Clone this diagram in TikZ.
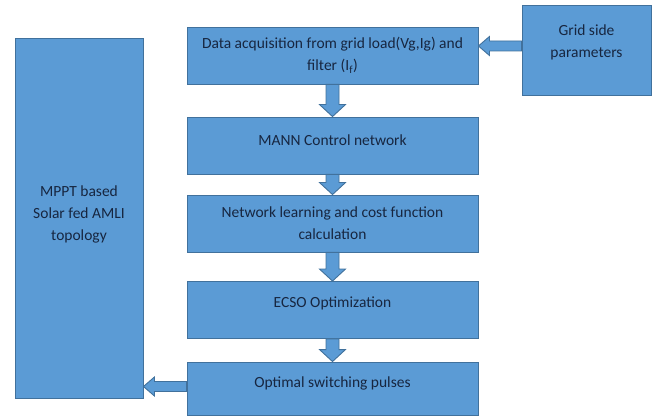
\documentclass[tikz,border=0pt]{standalone}
\usepackage{fontspec}
\setmainfont{Carlito}
\usetikzlibrary{calc}
\definecolor{boxfill}{HTML}{5B9BD5}
\definecolor{boxline}{HTML}{41719C}
\definecolor{boxtext}{HTML}{172640}
\tikzset{
  stagebox/.style={draw=boxline, fill=boxfill, line width=0.9pt,
    text=boxtext, font=\fontsize{15.5}{22}\selectfont, align=center,
    inner sep=0pt, minimum width=291pt, minimum height=57pt},
  % lift the text inside a box by #1 (natural depth is about 3.5pt)
  liftby/.style={text depth=3.5pt+2*#1},
  blkarrow/.style={draw=boxline, fill=boxfill, line width=0.9pt, line join=miter}
}
% block arrow pointing down from #1 to #2
\newcommand{\blkdown}[2]{%
  \draw[blkarrow] let \p1=(#1.south), \p2=(#2.north) in
    (\x1-6.5pt,\y1) -- (\x1-6.5pt,\y2+12pt) -- (\x1-13pt,\y2+12pt) -- (\x1,\y2)
    -- (\x1+13pt,\y2+12pt) -- (\x1+6.5pt,\y2+12pt) -- (\x1+6.5pt,\y1) -- cycle;}
% block arrow pointing left from #1 to #2, shifted up by #3
\newcommand{\blkleft}[3]{%
  \draw[blkarrow] let \p1=(#1.west), \p2=(#2.east) in
    (\x1,\y1+#3+5pt) -- (\x2+11pt,\y1+#3+5pt) -- (\x2+11pt,\y1+#3+9.5pt) -- (\x2,\y1+#3)
    -- (\x2+11pt,\y1+#3-9.5pt) -- (\x2+11pt,\y1+#3-5pt) -- (\x1,\y1+#3-5pt) -- cycle;}
\begin{document}
\begin{tikzpicture}[x=1pt,y=-1pt]
\useasboundingbox (0,0) rectangle (665,417);

\node[stagebox] (acq) at (332.5,55.5)
  {Data acquisition from grid load(Vg,Ig) and\\ filter (I\textsubscript{f})};
\node[stagebox, liftby=4pt] (mann) at (332.5,145.5) {MANN Control network};
\node[stagebox] (learn) at (332.5,223.5) {Network learning and cost function\\ calculation};
\node[stagebox, liftby=6pt] (ecso) at (332.5,310) {ECSO Optimization};
\node[stagebox, minimum height=53pt, liftby=5pt] (pulse) at (332.5,388.5) {Optimal switching pulses};

\node[stagebox, minimum width=128pt, minimum height=360pt, liftby=3pt] (amli) at (79,218)
  {MPPT based\\ Solar fed AMLI\\ topology};
\node[stagebox, minimum width=129pt, minimum height=90pt, liftby=7pt] (grid) at (586.5,50)
  {Grid side\\ parameters};

\blkleft{grid}{acq}{4pt}
\blkdown{acq}{mann}
\blkdown{mann}{learn}
\blkdown{learn}{ecso}
\blkdown{ecso}{pulse}
\blkleft{pulse}{amli}{2pt}
\end{tikzpicture}
\end{document}
